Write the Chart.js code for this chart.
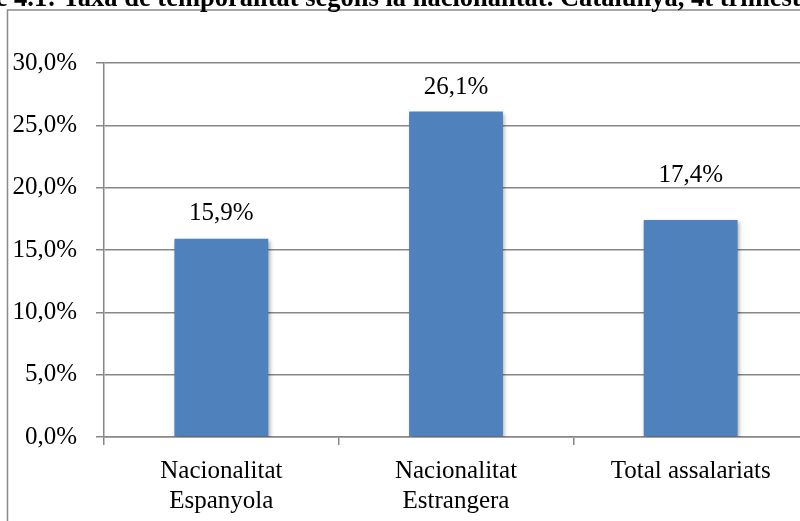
<!DOCTYPE html>
<html>
<head>
<meta charset="utf-8">
<script src="https://cdn.jsdelivr.net/npm/chart.js@4.4.1/dist/chart.umd.min.js"></script>
<style>
  html, body { margin: 0; padding: 0; background: #fff; overflow: hidden; width: 800px; height: 521px; }
  #wrap { position: absolute; left: 0; top: 0; width: 840px; height: 521px; }
</style>
</head>
<body>
<div id="wrap"><canvas id="c" width="840" height="521"></canvas></div>
<script>
const titleText = "Gràfic 4.1: Taxa de temporalitat segons la nacionalitat. Catalunya, 4t trimestre 2012";
const categories = [["Nacionalitat", "Espanyola"], ["Nacionalitat", "Estrangera"], "Total assalariats"];
const values = [15.9, 26.1, 17.4];
const yTicks = [0, 5, 10, 15, 20, 25, 30];

const fmt = v => v.toFixed(1).replace('.', ',') + '%';
const FONT = "'Liberation Serif', 'Times New Roman', serif";
const GRID = '#878787';

const framePlugin = {
  id: 'frame',
  beforeDraw(chart) {
    const ctx = chart.ctx;
    ctx.save();
    ctx.fillStyle = '#fff';
    ctx.fillRect(0, 0, chart.width, chart.height);
    ctx.strokeStyle = '#8a8a8a';
    ctx.lineWidth = 1.5;
    ctx.beginPath();
    ctx.moveTo(7.5, chart.height + 2);
    ctx.lineTo(7.5, 10);
    ctx.lineTo(chart.width + 2, 10);
    ctx.stroke();
    ctx.font = "bold 26.5px " + FONT;
    ctx.fillStyle = '#000';
    ctx.textBaseline = 'alphabetic';
    const pre = ctx.measureText("Gràfic ").width;
    ctx.fillText(titleText, 14 - pre, 6);
    ctx.restore();
  }
};

const shadowPlugin = {
  id: 'shadow',
  beforeDatasetsDraw(chart) {
    const ctx = chart.ctx;
    ctx.save();
    ctx.shadowColor = 'rgba(0,0,0,0.35)';
    ctx.shadowBlur = 4;
    ctx.shadowOffsetX = 1.5;
    ctx.shadowOffsetY = 2;
  },
  afterDatasetsDraw(chart) {
    chart.ctx.restore();
  }
};

const labelPlugin = {
  id: 'valueLabels',
  afterDatasetsDraw(chart, args, opts) {
    const ctx = chart.ctx;
    const meta = chart.getDatasetMeta(0);
    ctx.save();
    ctx.font = "25px " + FONT;
    ctx.fillStyle = '#000';
    ctx.textAlign = 'center';
    ctx.textBaseline = 'middle';
    meta.data.forEach((bar, i) => {
      const off = (opts.offsets && opts.offsets[i]) || 24;
      ctx.fillText(fmt(values[i]), bar.x, bar.y - off);
    });
    ctx.restore();
  }
};

new Chart(document.getElementById('c'), {
  type: 'bar',
  data: {
    labels: categories,
    datasets: [{
      data: values,
      backgroundColor: '#4F81BD',
      borderWidth: 0,
      barPercentage: 0.4,
      categoryPercentage: 1.0
    }]
  },
  options: {
    responsive: false,
    animation: false,
    devicePixelRatio: 1,
    layout: { padding: { top: 63, left: 0, right: 32, bottom: 0 } },
    plugins: {
      legend: { display: false }, tooltip: { enabled: false }, title: { display: false },
      valueLabels: { offsets: [25, 24, 45] }
    },
    scales: {
      x: {
        afterFit(scale) { scale.height = 84; },
        grid: { display: true, drawOnChartArea: false, drawTicks: true, tickLength: 8, color: GRID, lineWidth: 1.5, offset: true },
        border: { display: true, color: GRID, width: 1.5 },
        ticks: { color: '#000', font: { family: FONT, size: 25, lineHeight: 1.2 }, padding: 11, maxRotation: 0, autoSkip: false }
      },
      y: {
        min: 0, max: 30,
        afterFit(scale) { scale.width = 104; },
        afterBuildTicks(scale) { scale.ticks = yTicks.map(v => ({ value: v })); },
        grid: { color: GRID, lineWidth: 1.5, drawTicks: true, tickLength: 8 },
        border: { display: true, color: GRID, width: 1.5 },
        ticks: { color: '#000', font: { family: FONT, size: 25 }, padding: 19, callback: v => fmt(v) }
      }
    }
  },
  plugins: [framePlugin, shadowPlugin, labelPlugin]
});
</script>
</body>
</html>
